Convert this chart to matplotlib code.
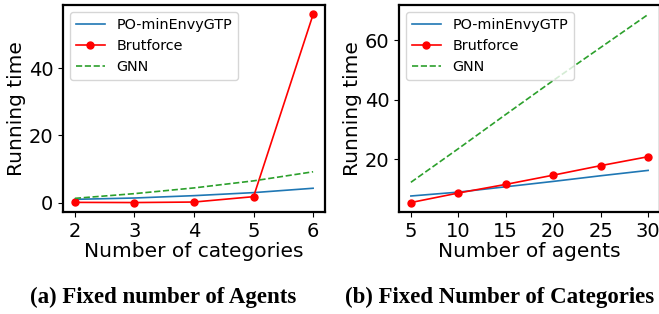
import matplotlib
matplotlib.use("Agg")
import matplotlib.pyplot as plt
import numpy as np

# (a) fixed number of agents
categories = [2, 3, 4, 5, 6]
po_a = [1.0, 1.4, 2.1, 3.0, 4.3]
brut_a = [0.1, 0.05, 0.2, 1.8, 56.0]
gnn_a = [1.3, 2.7, 4.4, 6.5, 9.2]

# (b) fixed number of categories
agents = [5, 10, 15, 20, 25, 30]
po_b = [7.7, 9.0, 10.8, 12.6, 14.5, 16.3]
brut_b = [5.5, 8.7, 11.6, 14.7, 17.9, 20.9]
gnn_b = [12.3, 23.6, 35.1, 46.5, 57.6, 68.7]

fig = plt.figure(figsize=(6.59, 3.14), dpi=100)
ax1 = fig.add_axes([0.0956, 0.325, 0.3976, 0.659])
ax2 = fig.add_axes([0.6055, 0.325, 0.396, 0.659])

def draw(ax, x, po, brut, gnn, xlabel):
    ax.plot(x, po, color="tab:blue", lw=1.2, label="PO-minEnvyGTP")
    ax.plot(x, brut, color="red", lw=1.2, marker="o", ms=5, label="Brutforce")
    ax.plot(x, gnn, color="tab:green", lw=1.2, ls="--", label="GNN")
    ax.set_xlabel(xlabel, fontsize=14.5, labelpad=1)
    ax.set_ylabel("Running time", fontsize=14.5, labelpad=2)
    ax.tick_params(labelsize=14)
    for s in ax.spines.values():
        s.set_linewidth(1.6)
    ax.legend(loc="upper left", fontsize=10.4)

draw(ax1, categories, po_a, brut_a, gnn_a, "Number of categories")
draw(ax2, agents, po_b, brut_b, gnn_b, "Number of agents")
ax1.set_xticks(categories)
ax2.set_xticks(agents)
ax1.set_yticks([0, 20, 40])
ax2.set_yticks([20, 40, 60])

fig.text(163 / 659, 1 - 297 / 314, "(a) Fixed number of Agents", ha="center", va="center",
         family="Liberation Serif", weight="bold", fontsize=16.5)
fig.text(500 / 659, 1 - 297 / 314, "(b) Fixed Number of Categories", ha="center", va="center",
         family="Liberation Serif", weight="bold", fontsize=16.5)

fig.savefig("out.png", dpi=100)
